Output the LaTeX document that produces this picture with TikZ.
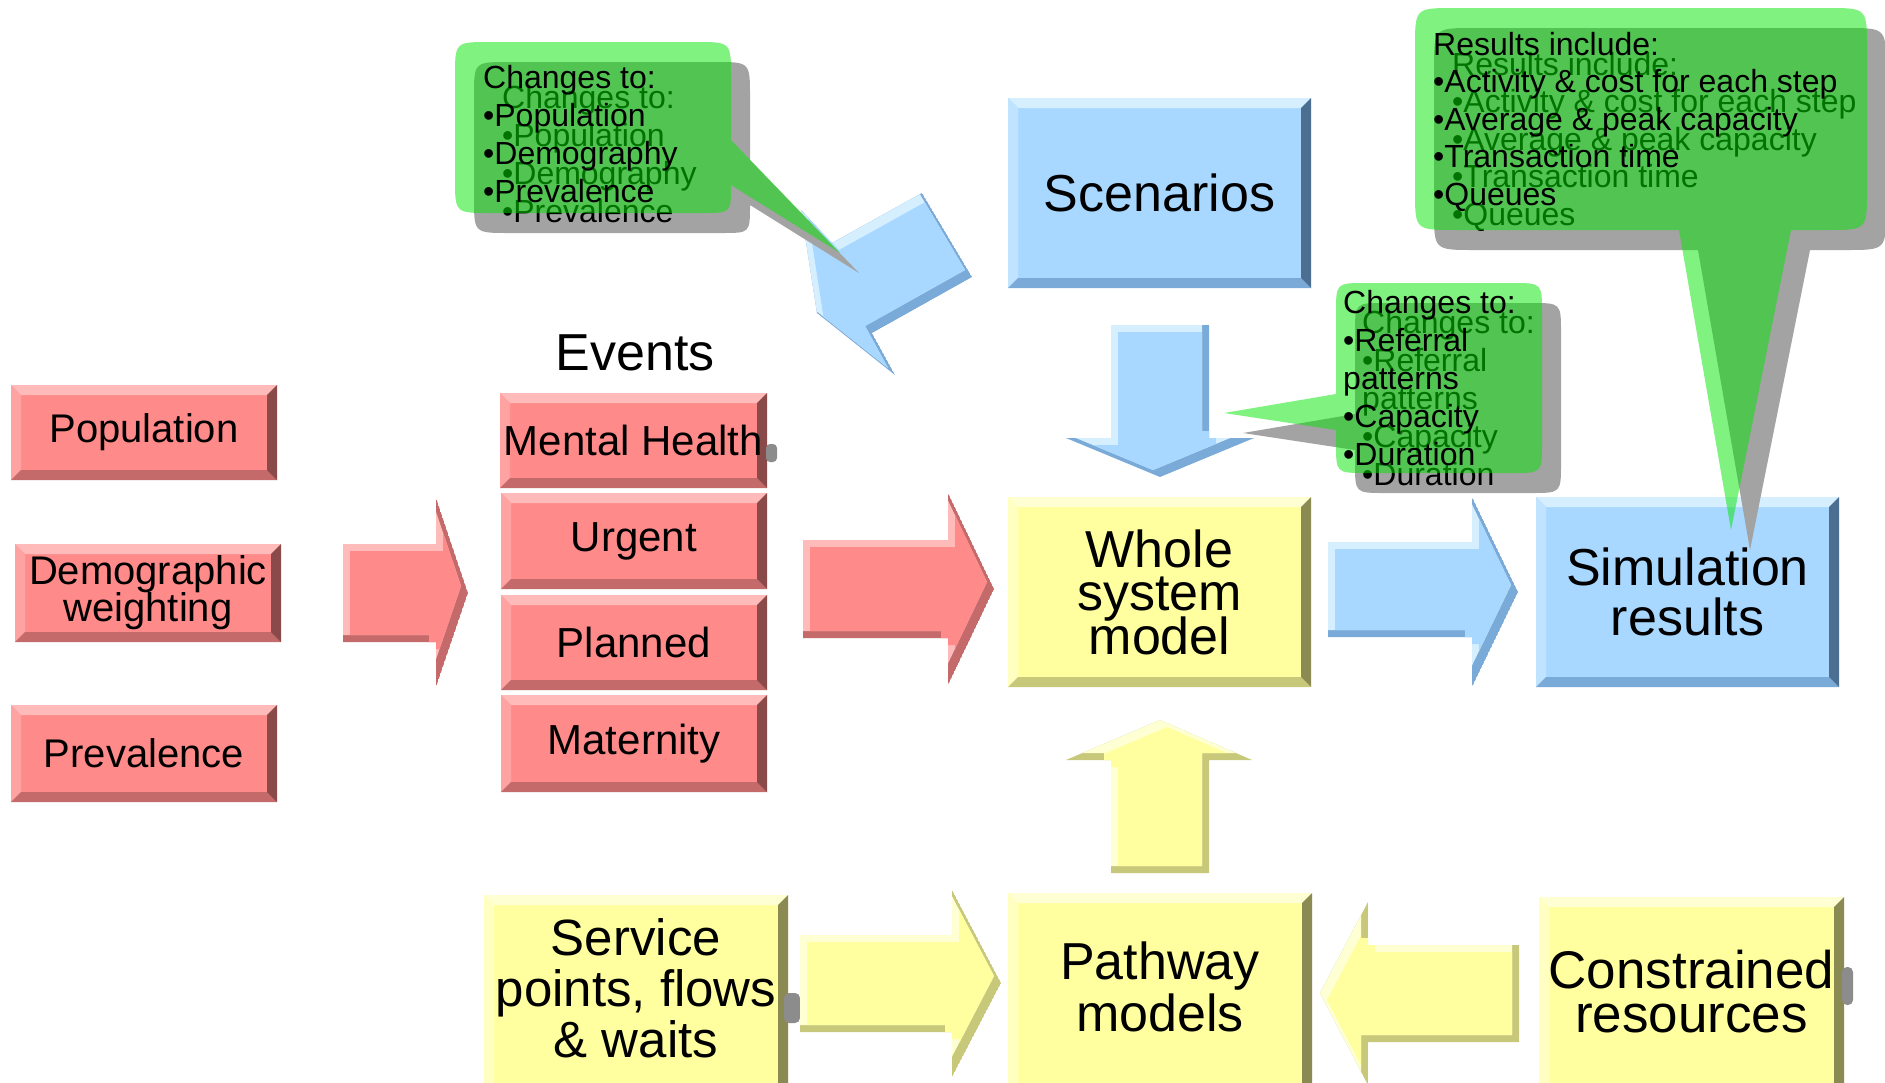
\documentclass[tikz,border=0pt]{standalone}
\usepackage{fontspec}
\setmainfont{Liberation Sans}
\definecolor{rbase}{HTML}{FF8A8A}
\definecolor{rtop}{HTML}{FFBABA}
\definecolor{rleft}{HTML}{FFA2A2}
\definecolor{rbot}{HTML}{C46A6A}
\definecolor{rright}{HTML}{8A4A4A}
\definecolor{bbase}{HTML}{A8D8FF}
\definecolor{btop}{HTML}{D6EFFF}
\definecolor{bleft}{HTML}{C0E4FF}
\definecolor{bbot}{HTML}{7AAAD8}
\definecolor{bright}{HTML}{4C6E90}
\definecolor{ybase}{HTML}{FFFFA0}
\definecolor{ytop}{HTML}{FFFFD4}
\definecolor{yleft}{HTML}{FFFFC2}
\definecolor{ybot}{HTML}{C8C87A}
\definecolor{yright}{HTML}{8A8A52}
\definecolor{greenc}{HTML}{00E600}
\newcommand\bevpoly[5]{%
  \begin{scope}
    \clip #1;
    \fill[#4] #1;
    \fill[#3, shift={(-#5,-#5)}] #1;
    \clip[shift={(-#5,-#5)}] #1;
    \fill[#2, shift={(#5,#5)}] #1;
  \end{scope}}
\newcommand\callout[6]{%
  \fill[black!36, shift={(19,20)}] #1;
  \node[ctext, font=#6, shift={(19,20)}] (#2s) at (#3,#4) {#5};
  \fill[greenc, fill opacity=0.5] #1;
  \node[ctext, font=#6] (#2) at (#3,#4) {#5};
}
\tikzset{
  bev/.style n args={5}{rectangle, inner sep=0pt, align=center, fill=#1, path picture={
    \coordinate (pa) at (path picture bounding box.north west);
    \coordinate (pb) at (path picture bounding box.north east);
    \coordinate (pc) at (path picture bounding box.south east);
    \coordinate (pd) at (path picture bounding box.south west);
    \fill[#2] (pa) -- (pb) -- ([xshift=-10pt,yshift=-10pt]pb) -- ([xshift=10pt,yshift=-10pt]pa) -- cycle;
    \fill[#3] (pa) -- ([xshift=10pt,yshift=-10pt]pa) -- ([xshift=10pt,yshift=10pt]pd) -- (pd) -- cycle;
    \fill[#4] (pd) -- ([xshift=10pt,yshift=10pt]pd) -- ([xshift=-10pt,yshift=10pt]pc) -- (pc) -- cycle;
    \fill[#5] (pc) -- ([xshift=-10pt,yshift=10pt]pc) -- ([xshift=-10pt,yshift=-10pt]pb) -- (pb) -- cycle;
  }},
  redbox/.style={bev={rbase}{rtop}{rleft}{rbot}{rright}},
  bluebox/.style={bev={bbase}{btop}{bleft}{bbot}{bright}},
  yelbox/.style={bev={ybase}{ytop}{yleft}{ybot}{yright}},
  ctext/.style={anchor=north west, inner sep=0pt, align=left},
}
\begin{document}
\begin{tikzpicture}[x=1pt,y=-1pt]
\fill[white] (0,0) rectangle (1885,1082);
\useasboundingbox (0,0) rectangle (1885,1082);

% left column
\node[redbox, minimum width=266pt, minimum height=95pt, font=\fontsize{40}{37}\selectfont] (pop) at (144,432.5) {Population};
\node[redbox, minimum width=266pt, minimum height=98pt, font={\fontsize{40}{37}\selectfont\lineskiplimit=-100pt}] (demo) at (148,593) {Demographic\\weighting};
\node[redbox, minimum width=266pt, minimum height=97pt, font=\fontsize{40}{37}\selectfont] (prev) at (144,753.5) {Prevalence};

% events
\node[anchor=base, inner sep=0pt, font=\fontsize{52}{52}\selectfont] (events) at (635,370) {Events};
\node[redbox, minimum width=267pt, minimum height=95pt, font=\fontsize{42}{42}\selectfont] (mh) at (633.5,440.5) {Mental Health};
\node[redbox, minimum width=266pt, minimum height=96pt, font=\fontsize{42}{42}\selectfont] (urg) at (634,541) {Urgent};
\node[redbox, minimum width=266pt, minimum height=95pt, font=\fontsize{42}{42}\selectfont] (plan) at (634,642.5) {Planned};
\node[redbox, minimum width=266pt, minimum height=97pt, font=\fontsize{42}{42}\selectfont] (mat) at (634,743.5) {Maternity};

% central column
\node[bluebox, minimum width=303pt, minimum height=190pt, font=\fontsize{52}{52}\selectfont] (scen) at (1159.5,193) {Scenarios};
\node[yelbox, minimum width=303pt, minimum height=190pt, font={\fontsize{52}{43.5}\selectfont\lineskiplimit=-100pt}] (whole) at (1159.5,592) {Whole\\system\\model};
\node[bluebox, minimum width=303pt, minimum height=190pt, font={\fontsize{52}{50}\selectfont\lineskiplimit=-100pt}] (sim) at (1687.5,592) {Simulation\\results};

% bottom row
\node[yelbox, minimum width=304pt, minimum height=205pt, font={\fontsize{51}{51}\selectfont\lineskiplimit=-100pt}] (serv) at (636,997.5) {Service\\points, flows\\\& waits\rule[-19pt]{0pt}{0pt}};
\node[yelbox, minimum width=304pt, minimum height=207pt, font={\fontsize{52}{52}\selectfont\lineskiplimit=-100pt}] (pathm) at (1160,996.5) {Pathway\\models\rule[-19pt]{0pt}{0pt}};
\node[yelbox, minimum width=305pt, minimum height=203pt, font={\fontsize{53}{44}\selectfont\lineskiplimit=-100pt}] (cons) at (1691.5,998.5) {Constrained\\resources\rule[-15pt]{0pt}{0pt}};

% small grey smudges
\fill[black!45, rounded corners=4pt] (766,444) rectangle (777,462);
\fill[black!45, rounded corners=5pt] (784,993) rectangle (800,1023);
\fill[black!45, rounded corners=5pt] (1842,967) rectangle (1853,1005);

% block arrows
\bevpoly{(343,544) -- (436,544) -- (436,498) -- (468,593) -- (436,687) -- (436,642) -- (343,642) -- cycle}{rbase}{rtop}{rbot}{7}
\bevpoly{(803,540) -- (948,540) -- (948,493) -- (994,589) -- (948,685) -- (948,638) -- (803,638) -- cycle}{rbase}{rtop}{rbot}{7}
\bevpoly{(1328,542) -- (1472,542) -- (1472,497) -- (1518,592) -- (1472,687) -- (1472,637) -- (1328,637) -- cycle}{bbase}{btop}{bbot}{7}
\bevpoly{(1111,325) -- (1209,325) -- (1209,438) -- (1254,438) -- (1160,477) -- (1066,438) -- (1111,438) -- cycle}{bbase}{btop}{bbot}{7}
\bevpoly{(1111,873) -- (1111,760) -- (1066,760) -- (1160,720) -- (1252,760) -- (1209,760) -- (1209,873) -- cycle}{ybase}{ytop}{ybot}{7}
\bevpoly{(800,935) -- (952,935) -- (952,890) -- (1001,983) -- (952,1077) -- (952,1032) -- (800,1032) -- cycle}{ybase}{ytop}{ybot}{7}
\bevpoly{(1519,945) -- (1368,945) -- (1368,902) -- (1320,993) -- (1368,1085) -- (1368,1042) -- (1519,1042) -- cycle}{ybase}{ytop}{ybot}{7}
\bevpoly{(801,210) -- (832,243) -- (922,193) -- (972,277) -- (872,333) -- (895,375) -- (817,313) -- cycle}{bbase}{btop}{bbot}{7}

% callouts
\callout{(490,42) -- (696,42) .. controls (731,42) .. (731,77) -- (731,140) -- (840,253) -- (731,185) .. controls (731,213) .. (703,213) -- (490,213) .. controls (455,213) .. (455,178) -- (455,77) .. controls (455,42) .. (490,42) -- cycle}{cA}{483}{64}{\rule{0pt}{24pt}Changes to:\\•Population\\•Demography\\•Prevalence}{\fontsize{32}{38}\selectfont}

\callout{(1366,283) -- (1512,283) .. controls (1542,283) .. (1542,313) -- (1542,443) .. controls (1542,473) .. (1512,473) -- (1366,473) .. controls (1336,473) .. (1336,443) -- (1336,430) -- (1224,413) -- (1336,394) -- (1336,313) .. controls (1336,283) .. (1366,283) -- cycle}{cB}{1343}{289}{\rule{0pt}{24pt}Changes to:\\•Referral\\patterns\\•Capacity\\•Duration}{\fontsize{32}{38}\selectfont}

\callout{(1455,8) -- (1827,8) .. controls (1867,8) .. (1867,48) -- (1867,190) .. controls (1867,230) .. (1827,230) -- (1791,230) -- (1731,530) -- (1679,230) -- (1455,230) .. controls (1415,230) .. (1415,190) -- (1415,48) .. controls (1415,8) .. (1455,8) -- cycle}{cC}{1433}{31}{\rule{0pt}{24pt}Results include:\\•Activity \& cost for each step\\•Average \& peak capacity\\•Transaction time\\•Queues}{\fontsize{32}{37.5}\selectfont}
\end{tikzpicture}
\end{document}
